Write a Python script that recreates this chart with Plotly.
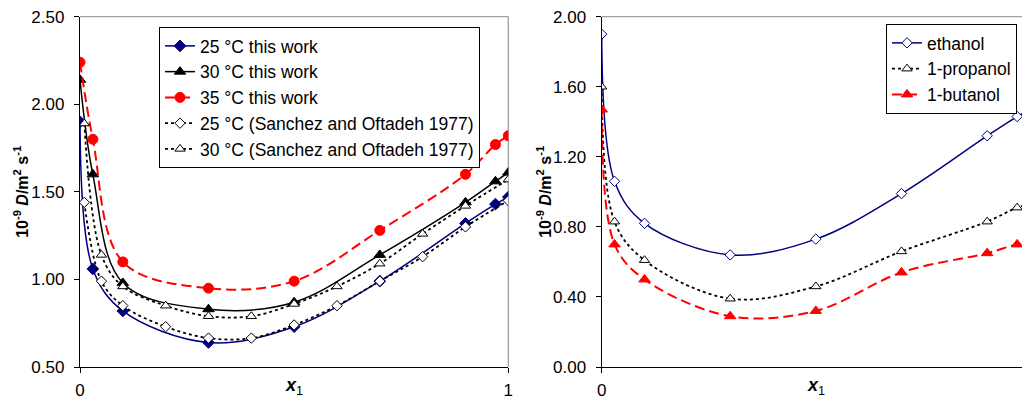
import plotly.graph_objects as go

# ---- mole fraction grids ----
x_this = [0, 0.03, 0.1, 0.3, 0.5, 0.7, 0.9, 0.97, 1.0]
x_lit = [0.01, 0.05, 0.1, 0.2, 0.3, 0.4, 0.5, 0.6, 0.7, 0.8, 0.9, 1.0]
x_alc = [0, 0.03, 0.1, 0.3, 0.5, 0.7, 0.9, 0.97, 1.0]

# ---- diffusion coefficients, 10^-9 m2/s ----
d25_this = [1.90, 1.06, 0.82, 0.64, 0.73, 0.99, 1.32, 1.43, 1.47]
d30_this = [2.14, 1.60, 0.98, 0.83, 0.87, 1.14, 1.44, 1.56, 1.61]
d35_this = [2.24, 1.80, 1.10, 0.95, 0.99, 1.28, 1.60, 1.77, 1.82]
d25_lit = [1.44, 0.99, 0.85, 0.73, 0.665, 0.665, 0.74, 0.85, 0.99, 1.13, 1.30, 1.45]
d30_lit = [1.89, 1.14, 0.96, 0.85, 0.79, 0.79, 0.86, 0.96, 1.09, 1.26, 1.42, 1.57]

d_ethanol = [1.90, 1.06, 0.82, 0.64, 0.73, 0.99, 1.32, 1.43, 1.47]
d_propanol = [1.60, 0.83, 0.61, 0.39, 0.46, 0.66, 0.83, 0.91, 0.93]
d_butanol = [1.47, 0.70, 0.50, 0.29, 0.32, 0.54, 0.65, 0.70, 0.71]

left_names = ["25 °C this work", "30 °C this work", "35 °C this work",
              "25 °C (Sanchez and Oftadeh 1977)", "30 °C (Sanchez and Oftadeh 1977)"]
right_names = ["ethanol", "1-propanol", "1-butanol"]

W, H = 1022, 399
FONT = "Liberation Sans, Arial, sans-serif"
NAVY = "#000080"
RED = "#FF0000"
GRID = "#A0A0A0"

fig = go.Figure()


def add(x, y, name, color, dash, width, symbol, msize, mfill, mline, xa, ya, legend):
    fig.add_trace(go.Scatter(
        x=x, y=y, name=name, mode="lines+markers",
        line=dict(color=color, dash=dash, width=width, shape="spline", smoothing=1.0),
        marker=dict(symbol=symbol, size=msize, color=mfill,
                    line=dict(color=mline, width=1)),
        xaxis=xa, yaxis=ya, legend=legend))


# left panel: water + ethanol at three temperatures
add(x_this, d25_this, left_names[0], NAVY, "solid", 1.5, "diamond", 9, NAVY, NAVY, "x", "y", "legend")
add(x_this, d30_this, left_names[1], "black", "solid", 1.5, "triangle-up", 10, "black", "black", "x", "y", "legend")
add(x_this, d35_this, left_names[2], RED, "10px,5px", 2, "circle", 10, RED, RED, "x", "y", "legend")
add(x_lit, d25_lit, left_names[3], "black", "3px,3px", 1.8, "diamond", 8, "white", "black", "x", "y", "legend")
add(x_lit, d30_lit, left_names[4], "black", "3px,3px", 1.8, "triangle-up", 9, "white", "black", "x", "y", "legend")

# right panel: the three alcohols
add(x_alc, d_ethanol, right_names[0], NAVY, "solid", 1.5, "diamond", 8, "white", NAVY, "x2", "y2", "legend2")
add(x_alc, d_propanol, right_names[1], "black", "3px,3px", 1.8, "triangle-up", 9, "white", "black", "x2", "y2", "legend2")
add(x_alc, d_butanol, right_names[2], RED, "10px,5px", 2, "triangle-up", 10, RED, RED, "x2", "y2", "legend2")

y_top, y_bot = 16.7, 367.0
ydom = [1 - y_bot / H, 1 - y_top / H]
xl0, xl1 = 80.0, 508.3
xr0 = 601.7
x_span = xl1 - xl0

axis_common = dict(showgrid=False, zeroline=False, showline=True, linecolor="black",
                   linewidth=1.3, ticks="outside", tickcolor="black", ticklen=5,
                   tickwidth=1.2, tickfont=dict(family=FONT, size=17, color="black"),
                   automargin=False)

fig.update_layout(
    width=W, height=H,
    margin=dict(l=0, r=0, t=0, b=0),
    paper_bgcolor="white", plot_bgcolor="white",
    font=dict(family=FONT, color="black"),
    xaxis=dict(domain=[xl0 / W, xl1 / W], range=[0, 1], tickvals=[0, 1],
               ticktext=["0", "1"], anchor="y", ticklabelstandoff=2, **axis_common),
    yaxis=dict(domain=ydom, range=[0.5, 2.5], dtick=0.5, tick0=0.5, tickformat=".2f",
               anchor="x", ticklabelstandoff=6, **axis_common),
    xaxis2=dict(domain=[xr0 / W, 1.0], range=[0, (W - xr0) / x_span], tickvals=[0, 1],
                ticktext=["0", "1"], anchor="y2", ticklabelstandoff=2, **axis_common),
    yaxis2=dict(domain=ydom, range=[0, 2.0], dtick=0.4, tick0=0, tickformat=".2f",
                anchor="x2", ticklabelstandoff=6, **axis_common),
    legend=dict(x=159 / W, y=1 - 27 / H, xanchor="left", yanchor="top",
                bgcolor="white", bordercolor="black", borderwidth=1,
                font=dict(family=FONT, size=17.5, color="black"),
                tracegroupgap=0, itemwidth=30),
    legend2=dict(x=886 / W, y=1 - 24 / H, xanchor="left", yanchor="top",
                 bgcolor="white", bordercolor="black", borderwidth=1,
                 font=dict(family=FONT, size=17.5, color="black"),
                 tracegroupgap=0, itemwidth=30),
    showlegend=True,
)

# plot-area border on top and right
for xr, yr in (("x domain", "y domain"), ("x2 domain", "y2 domain")):
    fig.add_shape(type="line", xref=xr, yref=yr, x0=0, x1=1, y0=1, y1=1,
                  line=dict(color=GRID, width=1.3), layer="below")
fig.add_shape(type="line", xref="x domain", yref="y domain", x0=1, x1=1, y0=0, y1=1,
              line=dict(color=GRID, width=1.3), layer="below")

ytitle = "<b>10<sup>-9</sup> <i>D</i>/m<sup>2</sup> s<sup>-1</sup></b>"
xtitle = "<b><i>x</i></b><sub>1</sub>"
yc = 1 - (y_top + y_bot) / 2 / H
for xpix in (21, 544):
    fig.add_annotation(text=ytitle, x=xpix / W, y=yc, xref="paper", yref="paper",
                       textangle=-90, showarrow=False, xanchor="center", yanchor="middle",
                       font=dict(family=FONT, size=16, color="black"))
for xpix in (294, 816):
    fig.add_annotation(text=xtitle, x=xpix / W, y=1 - 386 / H, xref="paper", yref="paper",
                       showarrow=False, xanchor="center", yanchor="middle",
                       font=dict(family=FONT, size=18, color="black"))

fig.write_html("out.html")
